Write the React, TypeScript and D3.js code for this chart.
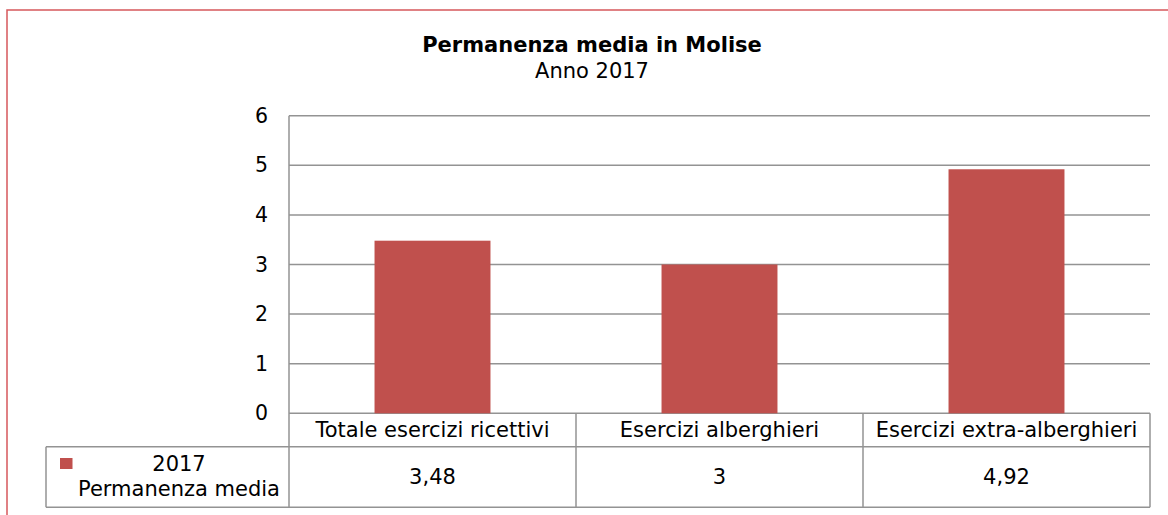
import React from 'react';
import * as d3 from 'd3';

const categories = ['Totale esercizi ricettivi', 'Esercizi alberghieri', 'Esercizi extra-alberghieri'];
const values = [3.48, 3, 4.92];
const valueLabels = ['3,48', '3', '4,92'];
const yTicks = [0, 1, 2, 3, 4, 5, 6];
const seriesName = ['2017', 'Permanenza media'];
const title = 'Permanenza media in Molise';
const subtitle = 'Anno 2017';

const W = 1168, H = 515;
const font = '"DejaVu Sans", Verdana, sans-serif';
const fs = 21;

const App = () => {
    const left = 289, right = 1150, top = 115.7, bottom = 413.3;
    const headerBottom = 446.7, tableBottom = 507.3, legendLeft = 46;

    const xCol = d3.scaleBand<string>().domain(categories).range([left, right]).padding(0);
    const xBar = d3.scaleBand<string>().domain(categories).range([left, right])
        .paddingInner(0.596).paddingOuter(0.298);
    const y = d3.scaleLinear().domain([0, 6]).range([bottom, top]);

    const grid = '#939393';

    return (
        <div style={{ position: 'fixed', left: 0, top: 0 }}>
            <svg width={W} height={H} style={{ display: 'block', fontFamily: font }}>
                <rect x={0} y={0} width={W} height={H} fill="#fff" />
                <rect x={7} y={10} width={1175} height={520} fill="#fff" stroke="#d6585c" strokeWidth={1.5} />

                <text x={592} y={52} textAnchor="middle" fontSize={fs} fontWeight="bold" fill="#000">{title}</text>
                <text x={592} y={78} textAnchor="middle" fontSize={fs} fill="#000">{subtitle}</text>

                {yTicks.map(t => (
                    <g key={t}>
                        <line x1={left} x2={right} y1={y(t)} y2={y(t)} stroke={grid} strokeWidth={1.5} />
                        <text x={268} y={y(t)} dy="0.35em" textAnchor="end" fontSize={20.5} fill="#000">{t}</text>
                    </g>
                ))}
                <line x1={left} x2={left} y1={top} y2={tableBottom} stroke={grid} strokeWidth={1.5} />

                {categories.map((c, i) => (
                    <rect key={c} x={xBar(c)} y={y(values[i])} width={xBar.bandwidth()}
                        height={y(0) - y(values[i])} fill="#c0504d" />
                ))}

                {/* data table */}
                <line x1={legendLeft} x2={right} y1={headerBottom} y2={headerBottom} stroke={grid} strokeWidth={1.5} />
                <line x1={legendLeft} x2={right} y1={tableBottom} y2={tableBottom} stroke={grid} strokeWidth={1.5} />
                <line x1={legendLeft} x2={legendLeft} y1={headerBottom} y2={tableBottom} stroke={grid} strokeWidth={1.5} />
                {categories.map(c => (
                    <line key={c} x1={xCol(c)! + xCol.bandwidth()} x2={xCol(c)! + xCol.bandwidth()}
                        y1={bottom} y2={tableBottom} stroke={grid} strokeWidth={1.5} />
                ))}
                {categories.map((c, i) => (
                    <g key={c}>
                        <text x={xCol(c)! + xCol.bandwidth() / 2} y={(bottom + headerBottom) / 2} dy="0.35em"
                            textAnchor="middle" fontSize={fs} fill="#000">{c}</text>
                        <text x={xCol(c)! + xCol.bandwidth() / 2} y={(headerBottom + tableBottom) / 2} dy="0.35em"
                            textAnchor="middle" fontSize={fs} fill="#000">{valueLabels[i]}</text>
                    </g>
                ))}
                <rect x={60} y={458} width={12.5} height={11} fill="#c0504d" />
                <text x={179} y={463.3} dy="0.35em" textAnchor="middle" fontSize={fs} fill="#000">{seriesName[0]}</text>
                <text x={179} y={489} dy="0.35em" textAnchor="middle" fontSize={fs} fill="#000">{seriesName[1]}</text>
            </svg>
        </div>
    );
};

export default App;
